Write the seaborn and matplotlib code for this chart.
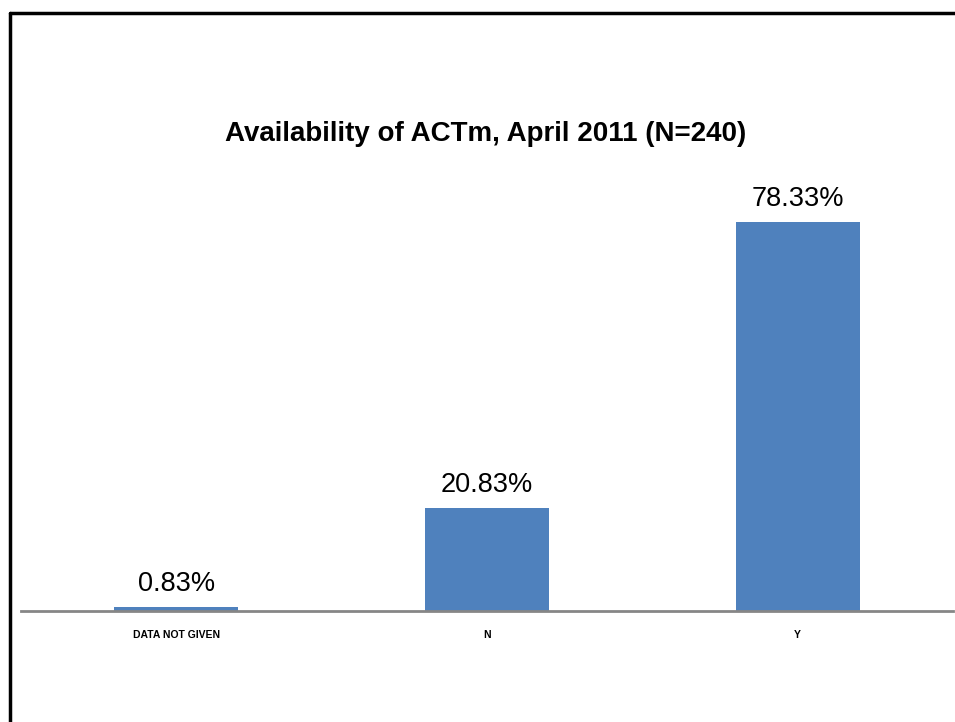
import matplotlib
matplotlib.use("Agg")
import matplotlib.pyplot as plt
import seaborn as sns
import pandas as pd
from matplotlib.lines import Line2D

categories = ["DATA NOT GIVEN", "N", "Y"]
percentages = [0.83, 20.83, 78.33]
value_labels = ["0.83%", "20.83%", "78.33%"]
title = "Availability of ACTm, April 2011 (N=240)"

df = pd.DataFrame({"category": categories, "pct": percentages})

sns.set_theme(style="white")
plt.rcParams["font.family"] = ["Liberation Sans", "DejaVu Sans"]

fig = plt.figure(figsize=(9.55, 7.22), dpi=100)
ax = fig.add_axes([0.022, 0.1537, 0.976, 0.6192])

sns.barplot(data=df, x="category", y="pct", color="#4F81BD", saturation=1,
            width=0.40, linewidth=0, ax=ax)

ax.set_ylim(0, 90)
ax.set_xlim(-0.5, 2.5)
for i, p in enumerate(percentages):
    ax.text(i, p + 2.0, value_labels[i], ha="center", va="bottom",
            fontsize=19.5, color="black")

ax.set_xlabel("")
ax.set_ylabel("")
ax.set_yticks([])
ax.set_xticks(range(len(categories)))
ax.set_xticklabels(categories, fontsize=7.5, fontweight="bold", color="black")
ax.tick_params(axis="x", length=0, pad=14)
for s in ["top", "right", "left"]:
    ax.spines[s].set_visible(False)
ax.spines["bottom"].set_color("#868686")
ax.spines["bottom"].set_linewidth(2)

fig.text(0.508, 0.815, title, ha="center", va="center", fontsize=20,
         fontweight="bold", color="black")

# frame lines (left and top) of the original slide border
fig.add_artist(Line2D([0.0105, 0.0105], [0.0, 0.982], color="black", lw=2.5))
fig.add_artist(Line2D([0.0105, 1.0], [0.982, 0.982], color="black", lw=2.5))

fig.savefig("out.png", dpi=100, facecolor="white")
